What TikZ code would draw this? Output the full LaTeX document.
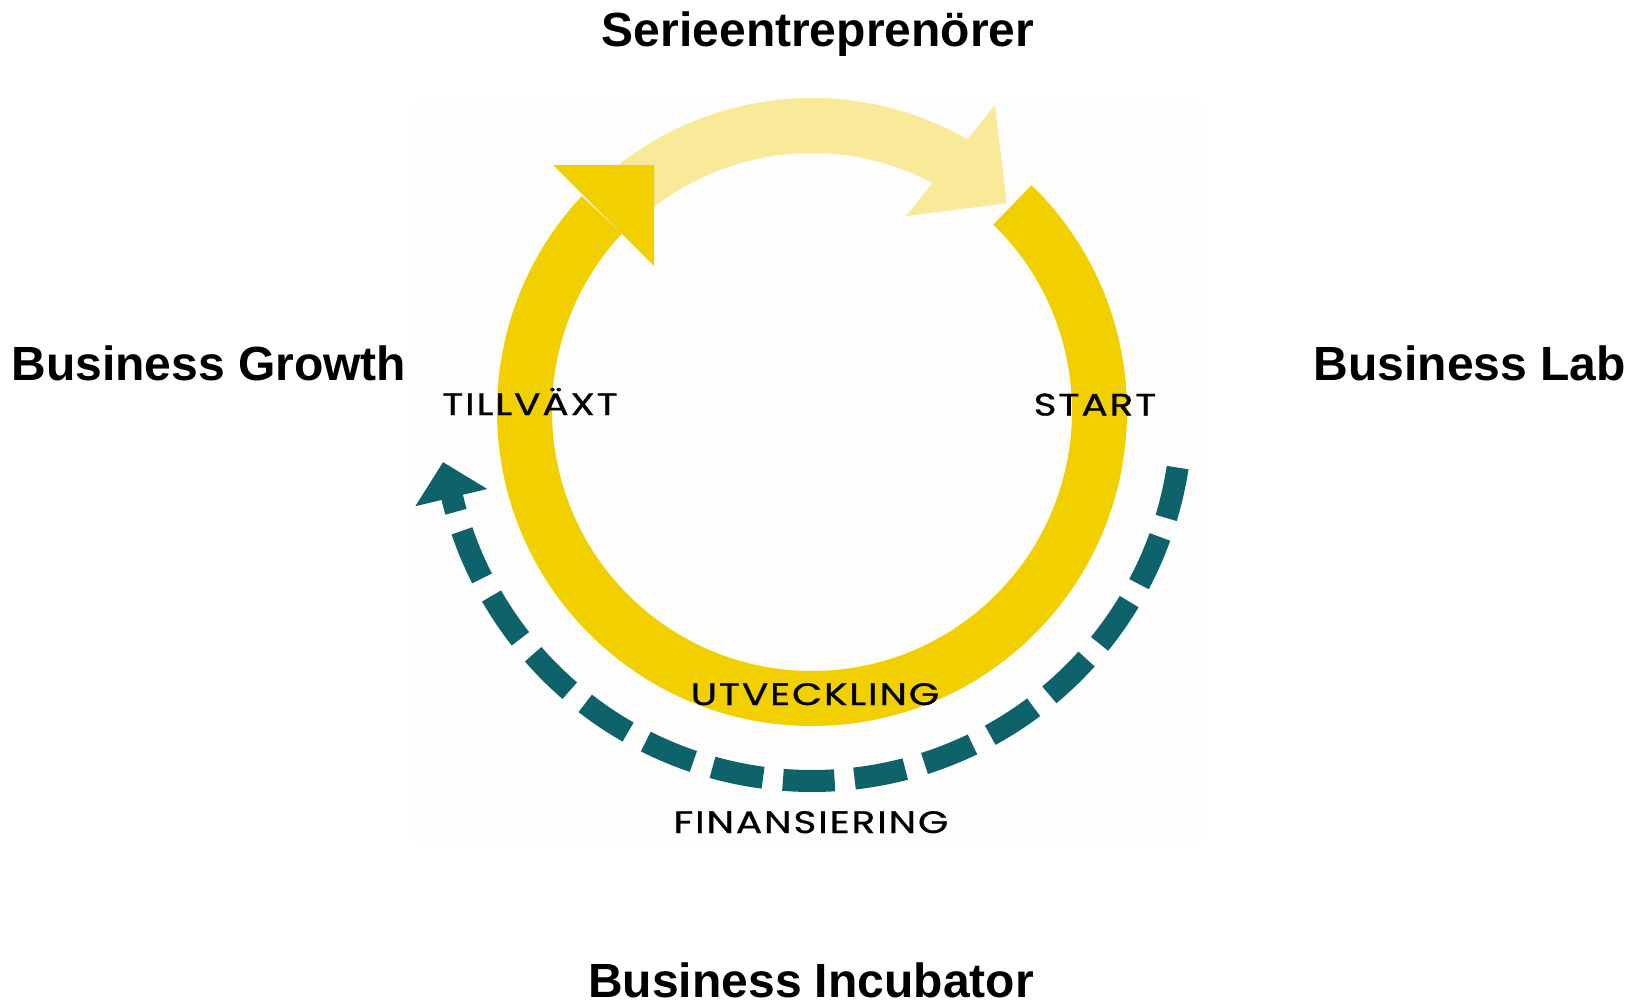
\documentclass[tikz,border=0pt]{standalone}
\usepackage{fontspec}
\setmainfont{Liberation Sans}
\newfontfamily\labfont[FakeStretch=1.26,FakeBold=0.9,LetterSpace=6]{Poppins}
\definecolor{ringyellow}{RGB}{242,208,0}
\definecolor{lightyellow}{RGB}{248,234,153}
\definecolor{finteal}{RGB}{14,98,105}
\definecolor{panel}{RGB}{253,253,253}
\begin{document}
\begin{tikzpicture}[x=1pt,y=1pt,
  title/.style={font=\fontsize{48}{56}\selectfont\bfseries, anchor=base, inner sep=0pt},
  stage/.style={font=\labfont\fontsize{31}{36}\selectfont, anchor=base, inner sep=0pt},
  dashseg/.style={draw=finteal, line width=22pt, line cap=butt}]
\useasboundingbox (0,0) rectangle (1634,-1004);
\fill[white] (0,0) rectangle (1634,-1004);
\fill[panel] (415,-98) rectangle (1201,-843);
\begin{scope}[shift={(812,-411)}]
  % light upper arc
  \fill[lightyellow] (135:313pt) arc[start angle=135, end angle=55, radius=313pt]
     -- (55:258pt) arc[start angle=55, end angle=135, radius=258pt] -- cycle;
  % main ring
  \fill[ringyellow] (137:315pt) arc[start angle=137, end angle=405.8, radius=315pt]
     -- (405.8:260pt) arc[start angle=405.8, end angle=137, radius=260pt] -- cycle;
  % dashed financing arc
  \foreach \k in {-6,...,7}{
    \pgfmathsetmacro\cc{-90.5+11.1*\k}
    \draw[dashseg] ({\cc+4}:370pt) arc[start angle={\cc+4}, end angle={\cc-4}, radius=370pt];
  }
  \draw[dashseg] (-164.2:370pt) arc[start angle=-164.2, end angle=-167, radius=370pt];
  \fill[finteal] (-172.1:372.5pt) -- (-166.5:408pt) -- (-166.5:334pt) -- cycle;
\end{scope}
% arrow heads
\fill[ringyellow] (553,-165) -- (654,-165) -- (654,-266) -- cycle;
\fill[lightyellow] (995,-105) -- (1006.7,-203.3) -- (906,-216) -- cycle;
% titles
\node[title] (serie) at (818,-46) {Serieentreprenörer};
\node[title] (growth) at (208.75,-380) {Business Growth};
\node[title] (lab) at (1470,-380) {Business Lab};
\node[title] (incub) at (811,-997) {Business Incubator};
% stage labels
\node[stage] (tillvaxt) at (530,-415) {TILLVÄXT};
\node[stage] (start) at (1095,-415.5) {START};
\node[stage] (utv) at (815,-705) {UTVECKLING};
\node[stage] (fin) at (811,-833) {FINANSIERING};
\end{tikzpicture}
\end{document}
